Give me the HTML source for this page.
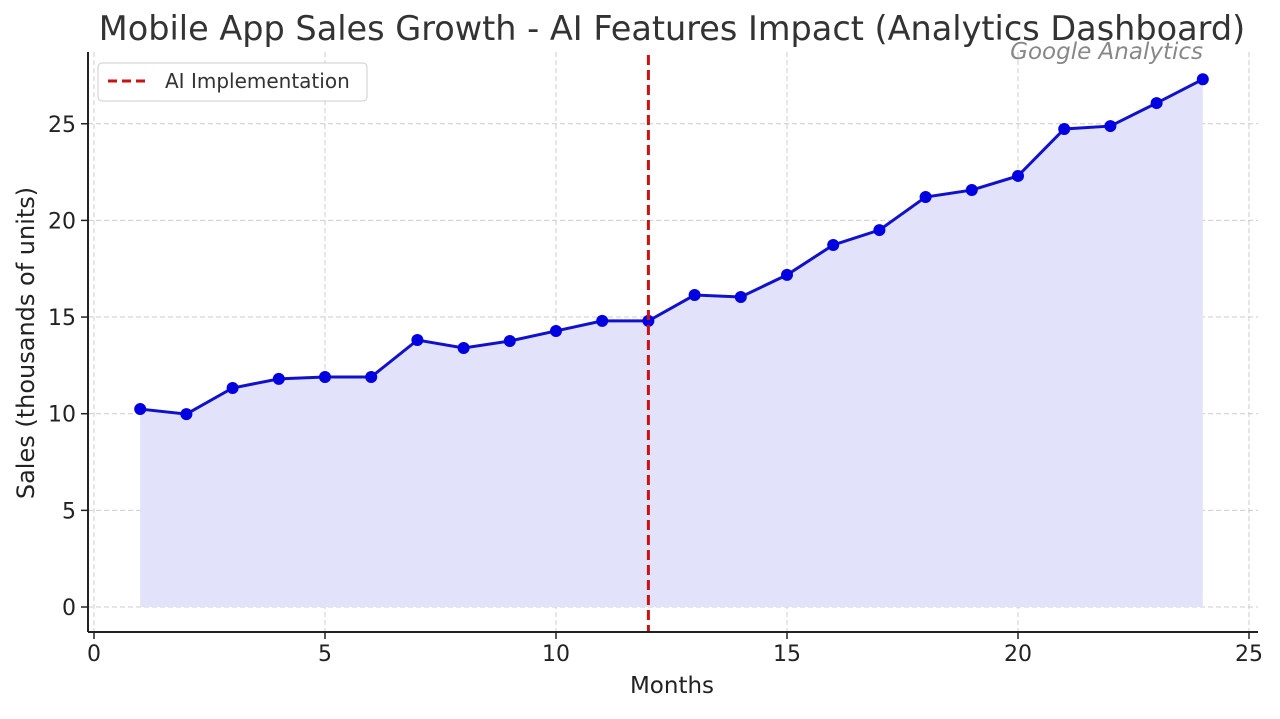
<!DOCTYPE html>
<html><head><meta charset="utf-8"><style>
body{margin:0;background:#fff;width:1280px;height:714px;overflow:hidden;font-family:"Liberation Sans","DejaVu Sans",sans-serif}
svg text{font-family:"DejaVu Sans","Liberation Sans",sans-serif}
</style></head><body>
<svg id="chart" width="1280" height="714" xmlns="http://www.w3.org/2000/svg">
<text x="672" y="40" text-anchor="middle" font-size="33.5" fill="#333">Mobile App Sales Growth - AI Features Impact (Analytics Dashboard)</text>
<text x="1203" y="59" text-anchor="end" font-size="23" font-style="italic" fill="#888">Google Analytics</text>
<g id="grid"></g><g id="marks"></g><g id="axes"></g>
<text x="672" y="693" text-anchor="middle" font-size="23" fill="#222">Months</text>
<text transform="translate(34,343) rotate(-90)" text-anchor="middle" font-size="24" fill="#222">Sales (thousands of units)</text>
<g>
<rect x="98" y="63" width="269" height="38" rx="4" fill="#fff" stroke="#ccc"/>
<line x1="108" y1="81" x2="148" y2="81" stroke="#cc1111" stroke-width="3" stroke-dasharray="9,5"/>
<text x="165" y="88" font-size="20" fill="#333">AI Implementation</text>
</g>
</svg>
<script>
const months=[1,2,3,4,5,6,7,8,9,10,11,12,13,14,15,16,17,18,19,20,21,22,23,24];
const sales=[10.24,9.98,11.33,11.8,11.9,11.9,13.81,13.4,13.76,14.28,14.8,14.8,16.14,16.04,17.18,18.73,19.5,21.21,21.57,22.3,24.73,24.88,26.07,27.3];
const xTicks=[0,5,10,15,20,25];
const yTicks=[0,5,10,15,20,25];
const aiMonth=12;
const NS="http://www.w3.org/2000/svg";
const X=v=>94+v*46.2, Y=v=>607-v*19.33;
const L=88,R=1258,T=52,B=632;
function mk(t,a,p){const e=document.createElementNS(NS,t);for(const k in a)e.setAttribute(k,a[k]);p.appendChild(e);return e;}
const grid=document.getElementById('grid'),marks=document.getElementById('marks'),axes=document.getElementById('axes');
xTicks.forEach(t=>{
 const g=mk('line',{x1:X(t),x2:X(t),y1:T,y2:B,stroke:'#ccc','stroke-dasharray':'5,3'},grid);
 
 
 mk('line',{x1:X(t),x2:X(t),y1:B,y2:B+7,stroke:'#222','stroke-width':1.5},axes);
 const tx=mk('text',{x:X(t),y:B+29,'text-anchor':'middle','font-size':22,fill:'#222'},axes);tx.textContent=t;
 
 
});
yTicks.forEach(t=>{
 const g=mk('line',{x1:L,x2:R,y1:Y(t),y2:Y(t),stroke:'#ccc','stroke-dasharray':'5,3'},grid);
 
 
 mk('line',{x1:L-7,x2:L,y1:Y(t),y2:Y(t),stroke:'#222','stroke-width':1.5},axes);
 const tx=mk('text',{x:L-12,y:Y(t)+8,'text-anchor':'end','font-size':22,fill:'#222'},axes);tx.textContent=t;
 
 
});
mk('line',{x1:L,x2:L,y1:T,y2:B,stroke:'#222','stroke-width':2},axes);
mk('line',{x1:L,x2:R,y1:B,y2:B,stroke:'#222','stroke-width':2},axes);
let pts=months.map((m,i)=>X(m)+','+Y(sales[i]));
const area=mk('polygon',{points:X(months[0])+','+Y(0)+' '+pts.join(' ')+' '+X(months[months.length-1])+','+Y(0),fill:'#e2e2fb'},marks);


const ln=mk('polyline',{points:pts.join(' '),fill:'none',stroke:'#1111cc','stroke-width':3},marks);


months.forEach((m,i)=>{
 const c=mk('circle',{cx:X(m),cy:Y(sales[i]),r:6,fill:'#0000e0'},marks);
 
 
});
const ai=mk('line',{x1:X(aiMonth),x2:X(aiMonth),y1:T+3,y2:B,stroke:'#cc1111','stroke-width':3,'stroke-dasharray':'10,5'},marks);


</script>
</body></html>
